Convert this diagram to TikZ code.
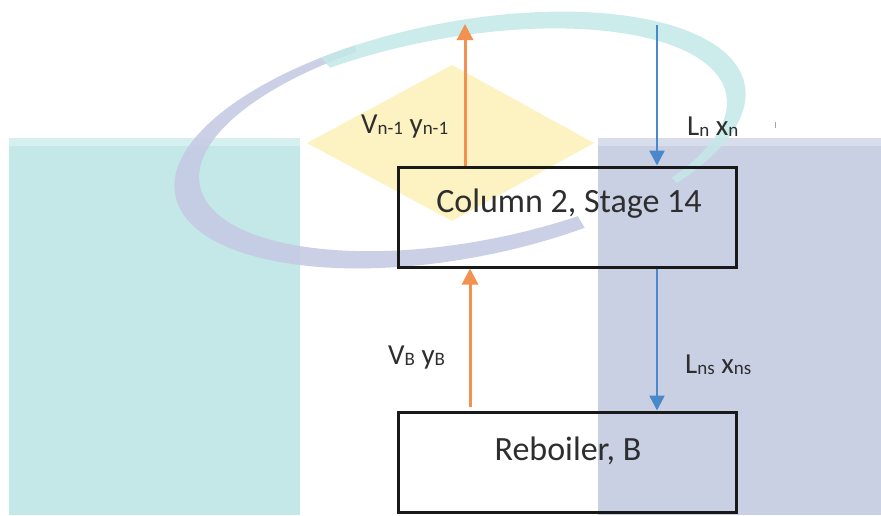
\documentclass[tikz,border=0pt]{standalone}
\usepackage{fontspec}
\setmainfont{Carlito}
\usetikzlibrary{arrows.meta}
\definecolor{wmteal}{HTML}{C4E8E8}
\definecolor{wmtealtop}{HTML}{D6EFEF}
\definecolor{wmlav}{HTML}{C9D0E4}
\definecolor{wmlavtop}{HTML}{D8DDEC}
\definecolor{wmring}{HTML}{C6CBE4}
\definecolor{wmyellow}{HTML}{FDF3C2}
\definecolor{flowor}{HTML}{F39250}
\definecolor{flowbl}{HTML}{4A88CC}
\definecolor{txt}{HTML}{2E2E2E}
\newcommand{\lowsub}[1]{\raisebox{-1.5pt}{\fontsize{19}{19}\selectfont #1}}
\tikzset{
  stagebox/.style={draw=black!90, line width=3pt, minimum width=338pt, minimum height=100pt, inner sep=0pt},
  boxtext/.style={text=txt, font=\fontsize{34}{34}\selectfont, inner sep=0pt, anchor=base},
  flowlabel/.style={text=txt, font=\fontsize{29}{29}\selectfont, inner sep=0pt, anchor=base west},
  oflow/.style={draw=flowor, line width=3pt, -{Triangle[width=16pt,length=16pt]}},
  bflow/.style={draw=flowbl, line width=2.4pt, -{Triangle[width=15pt,length=15pt]}}
}
\begin{document}
\begin{tikzpicture}[x=1pt,y=-1pt]
\useasboundingbox (0,0) rectangle (881,515);
\fill[white] (0,0) rectangle (881,515);
% watermark background
\fill[wmteal] (9,138) rectangle (300,515);
\fill[wmtealtop] (9,138) rectangle (300,146);
\fill[wmlav] (598,138) rectangle (881,515);
\fill[wmlavtop] (598,138) rectangle (881,146);
\fill[wmyellow] (452,65) -- (594,143) -- (452,221) -- (307,143) -- cycle;
% ring: lavender part
\begin{scope}
  \clip (0,-10) -- (345,-10) -- (365,100) -- (565,195) -- (610,270) -- (610,515) -- (0,515) -- cycle;
  \begin{scope}[shift={(460,140)}, rotate=11]
    \fill[wmring, even odd rule, opacity=0.9]
      (0,0) ellipse [x radius=290, y radius=118]
      (12,-5) ellipse [x radius=276, y radius=108];
  \end{scope}
\end{scope}
% ring: teal part
\begin{scope}
  \clip (290,20) -- (290,-10) -- (881,-10) -- (881,260) -- (710,216) -- (650,156) -- (340,80) -- cycle;
  \begin{scope}[shift={(460,140)}, rotate=11]
    \fill[wmteal, even odd rule, opacity=0.85]
      (0,0) ellipse [x radius=290, y radius=118]
      (-12,6) ellipse [x radius=282, y radius=109];
  \end{scope}
\end{scope}
% stages
\node[stagebox] (col) at (567,217) {};
\node[stagebox] (reb) at (567,462) {};
\node[boxtext] (coltext) at (569,212) {Column 2, Stage 14};
\node[boxtext] (rebtext) at (568,460) {Reboiler, B};
% flows
\coordinate (vtop) at (465,24);
\coordinate (ltop) at (657,25);
\coordinate (vbot) at (470,407);
\draw[oflow] (col.north -| vtop) -- (vtop);
\draw[bflow] (ltop) -- (ltop |- col.north);
\draw[oflow] (vbot) -- (vbot |- col.south);
\draw[bflow] (col.south -| ltop) -- (ltop |- reb.north);
% labels
\node[flowlabel] (lv1) at (361,133) {V\lowsub{n-1} y\lowsub{n-1}};
\node[flowlabel] (ll1) at (687,135) {L\lowsub{n} x\lowsub{n}};
\node[flowlabel] (lv2) at (388,364) {V\lowsub{B} y\lowsub{B}};
\node[flowlabel] (ll2) at (685,373) {L\lowsub{ns} x\lowsub{ns}};
\draw[gray!70, line width=1pt] (775,122) -- (775,128);
\end{tikzpicture}
\end{document}
